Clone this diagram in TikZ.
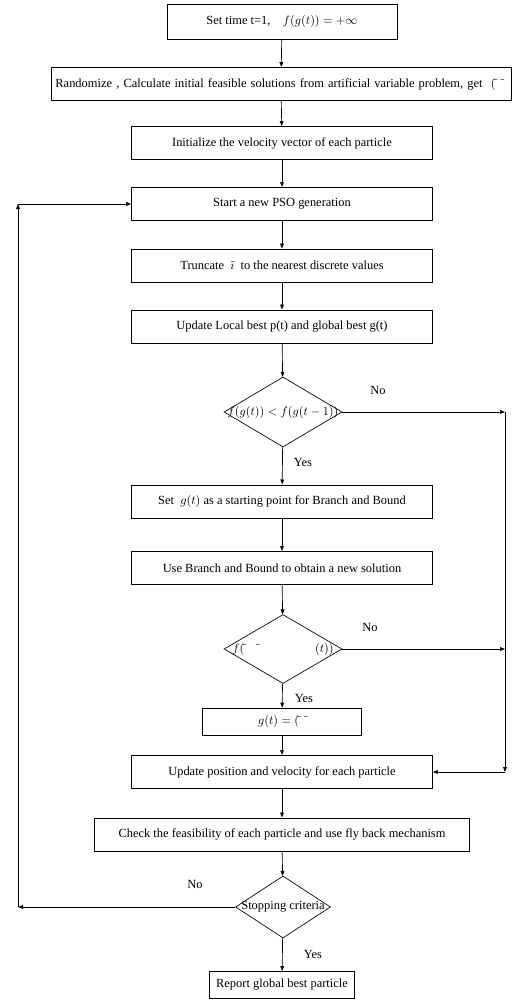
\documentclass[tikz,border=0pt]{standalone}
\usepackage{fontspec}
\setmainfont{Liberation Serif}
\usetikzlibrary{shapes.geometric,arrows.meta}

\begin{document}
\begin{tikzpicture}[x=0.9pt,y=-0.9pt,
    every node/.style={font=\fontsize{11.2}{13}\selectfont},
    box/.style={draw,line width=0.6pt,minimum width=270.9pt,minimum height=30pt,inner sep=2pt},
    dec/.style={draw,diamond,line width=0.6pt,inner sep=0pt},
    flow/.style={-{Triangle[length=4.5pt,width=3.4pt]},line width=0.6pt}]
  \useasboundingbox (0,0) rectangle (511,1000);
  % main column
  \node[box,minimum width=207pt,minimum height=31.5pt] (set) at (282,21.5) {Set time t=1,\quad $f(g(t))=+\infty$};
  \node[box,minimum width=414pt,text width=406pt,align=left] (rand) at (281,84) {Randomize , Calculate initial feasible solutions from artificial variable problem, get\ \ $(\tilde{}\;\;\tilde{}$};
  \node[box] (init) at (282,143) {Initialize the velocity vector of each particle};
  \node[box] (start) at (282,204) {Start a new PSO generation};
  \node[box] (trunc) at (282,265.5) {Truncate \ $\tilde{\imath}$\ \ to the nearest discrete values};
  \node[box] (upd) at (282,326.5) {Update Local best p(t) and global best g(t)};
  \node[dec,minimum width=106.2pt,minimum height=63pt,label=center:{$f(g(t))<f(g(t-1))$}] (d1) at (283,412) {};
  \node[box] (setg) at (282,501.5) {Set \ $g(t)$ as a starting point for Branch and Bound};
  \node[box] (bb) at (282,568) {Use Branch and Bound to obtain a new solution};
  \node[dec,minimum width=106.2pt,minimum height=62pt,label=center:{$f(\tilde{}\;\;\;\;\tilde{}\hspace{4.6em}(t))$}] (d2) at (283,649) {};
  \node[box,minimum width=143.1pt,minimum height=24.3pt] (gt) at (282,721.5) {$g(t)=(\tilde{}\;\;\tilde{}$\hspace{1.5em}};
  \node[box] (updpos) at (282,772) {Update position and velocity for each particle};
  \node[box,minimum width=337.5pt] (check) at (282,834.5) {Check the feasibility of each particle and use fly back mechanism};
  \node[dec,minimum width=85.5pt,minimum height=55.8pt,label=center:{Stopping criteria}] (stop) at (283,907) {};
  \node[box,minimum width=130.5pt,minimum height=24.3pt] (report) at (282,985) {Report global best particle};
  % loop corners
  \coordinate (r1) at (505,412);
  \coordinate (r3) at (505,649);
  \coordinate (r2) at (505,772);
  \coordinate (l1) at (18,907);
  \coordinate (l2) at (18,204);
  % connectors
  \foreach \a/\b in {set/rand,rand/init,init/start,start/trunc,trunc/upd,upd/d1,d1/setg,
      setg/bb,bb/d2,d2/gt,gt/updpos,updpos/check,check/stop,stop/report}
    \draw[flow] (\a) -- (\b);
  \draw[flow] (d1) -- (r1);
  \draw[flow] (r1) -- (r2);
  \draw[flow] (d2) -- (r3);
  \draw[flow] (r2) -- (updpos);
  \draw[flow] (stop) -- (l1);
  \draw[flow] (l1) -- (l2);
  \draw[flow] (l2) -- (start);
  % branch labels
  \node (no1) at (378,390) {No};
  \node (yes1) at (303,462) {Yes};
  \node (no2) at (370,627) {No};
  \node (yes2) at (304,698) {Yes};
  \node (no3) at (195,884) {No};
  \node (yes3) at (313,954) {Yes};
\end{tikzpicture}
\end{document}
